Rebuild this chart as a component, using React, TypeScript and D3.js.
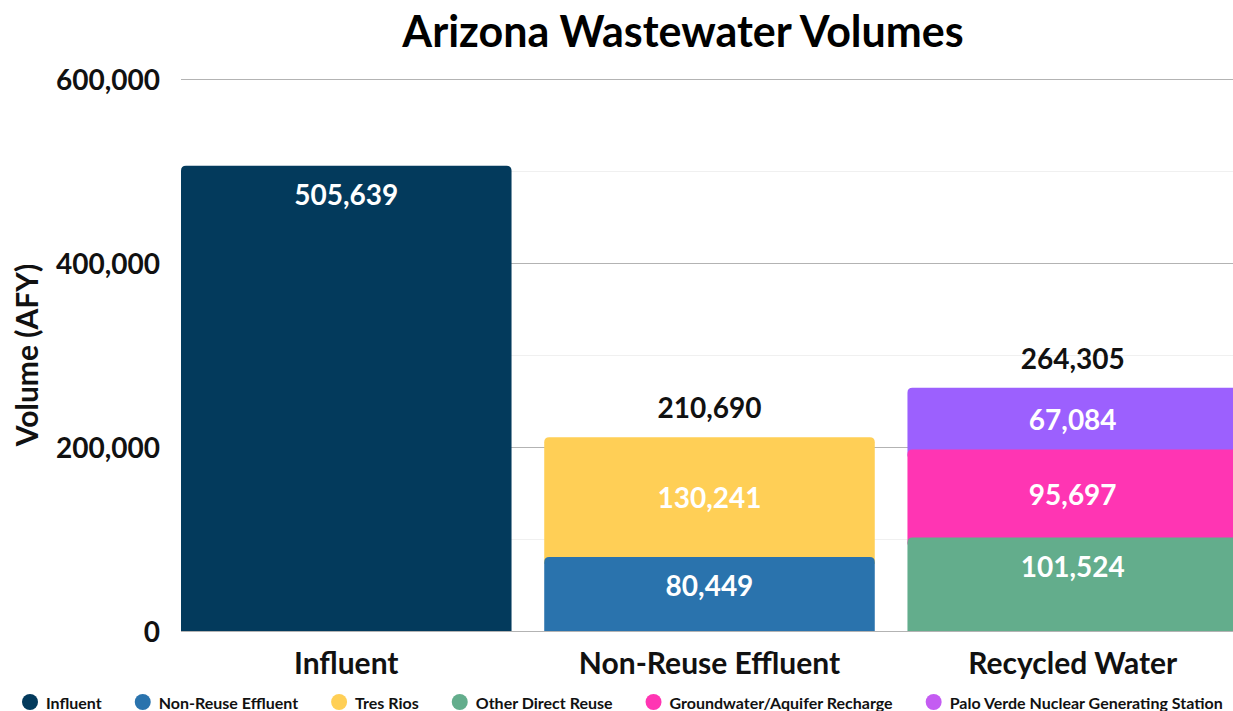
import React, { useRef, useEffect } from "react";
import * as d3 from "d3";

const categories = ["Influent", "Non-Reuse Effluent", "Recycled Water"];

const seriesNames = [
  "Influent",
  "Non-Reuse Effluent",
  "Tres Rios",
  "Other Direct Reuse",
  "Groundwater/Aquifer Recharge",
  "Palo Verde Nuclear Generating Station",
];

// values per series, one per category
const influent = [505639, 0, 0];
const nonReuseEffluent = [0, 80449, 0];
const tresRios = [0, 130241, 0];
const otherDirectReuse = [0, 0, 101524];
const groundwaterRecharge = [0, 0, 95697];
const paloVerde = [0, 0, 67084];

const seriesValues = [influent, nonReuseEffluent, tresRios, otherDirectReuse, groundwaterRecharge, paloVerde];

const barColors = ["#033a5c", "#2a73ad", "#ffcf56", "#63ad8c", "#ff35b3", "#9c60fe"];
const legendColors = ["#033a5c", "#2a73ad", "#ffcf56", "#63ad8c", "#ff35b3", "#c45cf2"];
// where the value label sits inside each segment
const labelAnchor = ["top", "top", "center", "top", "center", "center"];

const yTicks = [0, 200000, 400000, 600000];
const yMinorTicks = [100000, 300000, 500000];

const W = 1233;
const H = 711;
const FONT = "Lato, 'Open Sans', sans-serif";

export default function App() {
  const svgRef = useRef<SVGSVGElement>(null);

  useEffect(() => {
    document.body.style.margin = "0";
    const svg = d3.select(svgRef.current);
    svg.selectAll("*").remove();

    const left = 181, right = W, top = 79, bottom = 631;

    const x = d3.scaleBand().domain(categories).range([left, 1238]).paddingInner(0.09).paddingOuter(0);
    const y = d3.scaleLinear().domain([0, 600000]).range([bottom, top]);

    // rows for the stack
    const rows = categories.map((c, i) => {
      const r: any = { category: c };
      seriesNames.forEach((s, k) => (r[s] = seriesValues[k][i]));
      return r;
    });
    const stacked = d3.stack().keys(seriesNames)(rows);

    // title
    svg.append("text")
      .attr("x", 683).attr("y", 47)
      .attr("text-anchor", "middle")
      .style("font", `bold 43px ${FONT}`)
      .text("Arizona Wastewater Volumes");

    // grid
    svg.append("g").selectAll("line").data(yMinorTicks).join("line")
      .attr("x1", left).attr("x2", right)
      .attr("y1", (d) => y(d) + 0.5).attr("y2", (d) => y(d) + 0.5)
      .attr("stroke", "#f0f0f0");
    svg.append("g").selectAll("line").data(yTicks).join("line")
      .attr("x1", left).attr("x2", right)
      .attr("y1", (d) => y(d) + 0.5).attr("y2", (d) => y(d) + 0.5)
      .attr("stroke", "#b3b3b3");

    // y tick labels
    svg.append("g").selectAll("text").data(yTicks).join("text")
      .attr("x", 160).attr("y", (d) => y(d))
      .attr("text-anchor", "end").attr("dominant-baseline", "central")
      .style("font", `bold 28px ${FONT}`).attr("fill", "#111")
      .text((d) => d3.format(",")(d));

    // y axis title
    svg.append("text")
      .attr("transform", `translate(26,355) rotate(-90)`)
      .attr("text-anchor", "middle").attr("dominant-baseline", "central")
      .style("font", `bold 30px ${FONT}`).attr("fill", "#111")
      .text("Volume (AFY)");

    // bars: upper segments first so lower ones cover their extension
    const r = 5;
    const segPath = (x0: number, w: number, yt: number, yb: number) =>
      `M${x0},${yb}L${x0},${yt + r}Q${x0},${yt} ${x0 + r},${yt}L${x0 + w - r},${yt}Q${x0 + w},${yt} ${x0 + w},${yt + r}L${x0 + w},${yb}Z`;

    const segs: any[] = [];
    stacked.forEach((layer, k) => {
      layer.forEach((d, i) => {
        if (d[1] - d[0] <= 0) return;
        segs.push({ k, i, y0: d[0], y1: d[1], value: d[1] - d[0] });
      });
    });

    svg.append("g").selectAll("path")
      .data(segs.slice().sort((a, b) => b.k - a.k))
      .join("path")
      .attr("d", (s) => {
        const x0 = x(categories[s.i])!;
        const yb = s.y0 > 0 ? y(s.y0) + r + 2 : y(s.y0);
        return segPath(x0, x.bandwidth(), y(s.y1), yb);
      })
      .attr("fill", (s) => barColors[s.k]);

    // value labels
    svg.append("g").selectAll("text").data(segs).join("text")
      .attr("x", (s) => x(categories[s.i])! + x.bandwidth() / 2)
      .attr("y", (s) => labelAnchor[s.k] === "top" ? y(s.y1) + 28 : (y(s.y0) + y(s.y1)) / 2)
      .attr("text-anchor", "middle").attr("dominant-baseline", "central")
      .style("font", `bold 28px ${FONT}`).attr("fill", "#fff")
      .text((s) => d3.format(",")(s.value));

    // totals for stacked categories
    const totals = categories.map((c, i) => ({
      c,
      n: seriesValues.filter((v) => v[i] > 0).length,
      total: d3.sum(seriesValues, (v) => v[i]),
    })).filter((t) => t.n > 1);
    svg.append("g").selectAll("text").data(totals).join("text")
      .attr("x", (t) => x(t.c)! + x.bandwidth() / 2)
      .attr("y", (t) => y(t.total) - 30)
      .attr("text-anchor", "middle").attr("dominant-baseline", "central")
      .style("font", `bold 28px ${FONT}`).attr("fill", "#111")
      .text((t) => d3.format(",")(t.total));

    // x labels
    svg.append("g").selectAll("text").data(categories).join("text")
      .attr("x", (c) => x(c)! + x.bandwidth() / 2)
      .attr("y", 662)
      .attr("text-anchor", "middle").attr("dominant-baseline", "central")
      .style("font", `bold 30px ${FONT}`).attr("fill", "#111")
      .text((c) => c);

    // legend
    const lg = svg.append("g");
    let cx = 30;
    seriesNames.forEach((s, k) => {
      lg.append("circle").attr("cx", cx).attr("cy", 702).attr("r", 8).attr("fill", legendColors[k]);
      const t = lg.append("text")
        .attr("x", cx + 16).attr("y", 702)
        .attr("dominant-baseline", "central")
        .style("font", `bold 16px ${FONT}`).attr("fill", "#111")
        .text(s);
      const w = (t.node() as SVGTextElement).getComputedTextLength();
      cx += 16 + w + 41;
    });
  }, []);

  return (
    <svg ref={svgRef} width={W} height={H} style={{ display: "block", background: "#fff" }} />
  );
}
